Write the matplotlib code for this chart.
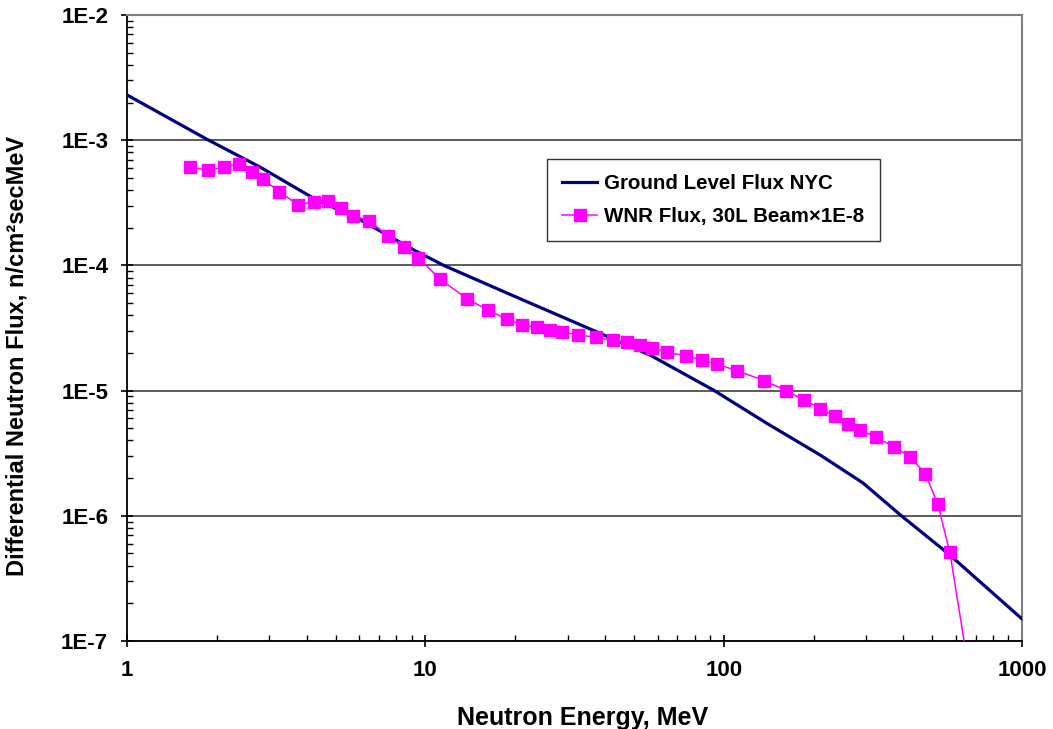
import numpy as np
import matplotlib
matplotlib.use("Agg")
import matplotlib.pyplot as plt
from matplotlib.ticker import LogLocator, FuncFormatter, NullFormatter

plt.rcParams['font.family'] = ['Liberation Sans', 'DejaVu Sans']
plt.rcParams['font.weight'] = 'bold'

# Ground level neutron flux, New York City
ground_energy = [1, 1.855, 2.80, 4.22, 6.06, 9.14, 11.53, 17.8, 21.9, 26.2, 38.5, 56.7,
                 92.4, 139.5, 210.5, 293, 394, 565, 1000]
ground_flux = [2.30e-3, 1.016e-3, 6.08e-4, 3.44e-4, 2.31e-4, 1.33e-4, 1.0e-4, 6.36e-5,
               5.13e-5, 4.27e-5, 2.87e-5, 1.92e-5, 1.01e-5, 5.48e-6, 3.06e-6, 1.83e-6,
               1.0e-6, 5.0e-7, 1.5e-7]

# WNR beam flux (30L), scaled by 1E-8
wnr_energy = [1.62, 1.87, 2.12, 2.37, 2.62, 2.86, 3.24, 3.74, 4.24, 4.73, 5.23, 5.74, 6.49,
              7.5, 8.47, 9.47, 11.2, 13.8, 16.2, 18.75, 21.1, 23.6, 26.2, 28.7, 32.5, 37.4,
              42.4, 47.5, 52.3, 57.3, 64.7, 74.6, 84.8, 94.8, 111, 137, 162, 186.5, 211,
              236, 261, 286, 324, 373, 422, 474, 522, 573, 680]
wnr_flux = [6.08e-4, 5.78e-4, 6.08e-4, 6.49e-4, 5.6e-4, 4.88e-4, 3.88e-4, 3.05e-4, 3.23e-4,
            3.29e-4, 2.86e-4, 2.48e-4, 2.28e-4, 1.71e-4, 1.40e-4, 1.15e-4, 7.78e-5, 5.4e-5,
            4.41e-5, 3.71e-5, 3.36e-5, 3.2e-5, 3.06e-5, 2.95e-5, 2.78e-5, 2.67e-5, 2.52e-5,
            2.43e-5, 2.30e-5, 2.20e-5, 2.03e-5, 1.89e-5, 1.75e-5, 1.63e-5, 1.44e-5, 1.2e-5,
            1.0e-5, 8.36e-6, 7.18e-6, 6.26e-6, 5.41e-6, 4.88e-6, 4.24e-6, 3.56e-6, 2.95e-6,
            2.17e-6, 1.24e-6, 5.1e-7, 4.0e-8]

fig = plt.figure(figsize=(10.53, 7.29), dpi=100)
ax = fig.add_axes([0.1206, 0.1207, 0.8500, 0.8587])

ax.plot(ground_energy, ground_flux, color='#000080', lw=2.3, label='Ground Level Flux NYC', zorder=3)
ax.plot(wnr_energy, wnr_flux, color='#FF00FF', lw=1.1, marker='s', markersize=8,
        markeredgecolor='#FF00FF', label='WNR Flux, 30L Beam\u00d71E-8', zorder=4)

ax.set_xscale('log')
ax.set_yscale('log')
ax.set_xlim(1, 1000)
ax.set_ylim(1e-7, 1e-2)

ax.yaxis.set_major_locator(LogLocator(base=10, numticks=10))
ax.yaxis.set_minor_locator(LogLocator(base=10, subs=np.arange(2, 10), numticks=20))
ax.xaxis.set_major_locator(LogLocator(base=10, numticks=10))
ax.xaxis.set_minor_locator(LogLocator(base=10, subs=np.arange(2, 10), numticks=20))
ax.yaxis.set_major_formatter(FuncFormatter(lambda v, p: '1E%d' % round(np.log10(v))))
ax.xaxis.set_major_formatter(FuncFormatter(lambda v, p: '%d' % round(v)))
ax.xaxis.set_minor_formatter(NullFormatter())
ax.yaxis.set_minor_formatter(NullFormatter())

ax.grid(True, which='major', axis='y', color='#404040', lw=1.2, zorder=1)
ax.tick_params(which='major', direction='inout', length=9, width=1.2, labelsize=16, pad=9)
ax.tick_params(which='minor', direction='in', length=4.5, width=1.0)

for side in ['left', 'bottom']:
    ax.spines[side].set_color('black')
    ax.spines[side].set_linewidth(1.3)
for side in ['top', 'right']:
    ax.spines[side].set_color('#808080')
    ax.spines[side].set_linewidth(1.5)

ax.set_xlabel('Neutron Energy, MeV', fontsize=18, fontweight='bold')
ax.set_ylabel('Differential Neutron Flux, n/cm\u00b2secMeV', fontsize=17, fontweight='bold')
ax.xaxis.set_label_coords(0.5095, -0.104)
ax.yaxis.set_label_coords(-0.110, 0.455)

leg = ax.legend(loc='upper left', bbox_to_anchor=(0.469, 0.770), borderaxespad=0,
                fontsize=14.8, frameon=True, fancybox=False, edgecolor='black',
                handlelength=1.7, handletextpad=0.35, borderpad=0.75, labelspacing=0.65)
leg.get_frame().set_linewidth(1.0)

fig.savefig('out.png', dpi=100)
